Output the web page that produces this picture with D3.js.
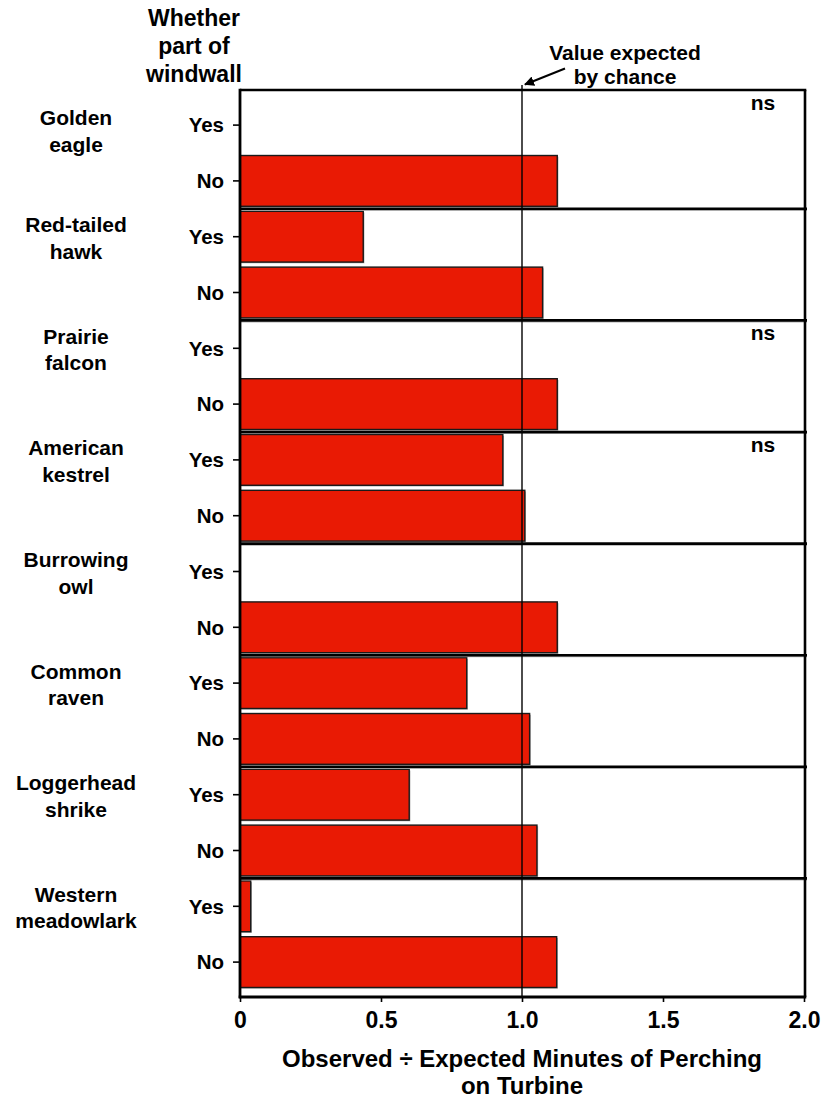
<!DOCTYPE html>
<html>
<head>
<meta charset="utf-8">
<script src="https://cdn.jsdelivr.net/npm/d3@7"></script>
<style>
  html, body { margin: 0; padding: 0; background: #fff; }
  svg { display: block; }
  text { font-family: "Liberation Sans", Arial, sans-serif; font-weight: bold; fill: #000; }
</style>
</head>
<body>
<svg id="chart" width="821" height="1099"></svg>
<script>
// ---- data ----
const speciesLines = [
  ["Golden", "eagle"],
  ["Red-tailed", "hawk"],
  ["Prairie", "falcon"],
  ["American", "kestrel"],
  ["Burrowing", "owl"],
  ["Common", "raven"],
  ["Loggerhead", "shrike"],
  ["Western", "meadowlark"]
];
const windwall = ["Yes", "No"];
const yesValues = [null, 0.437, null, 0.932, null, 0.804, 0.600, 0.038];
const noValues  = [1.125, 1.073, 1.125, 1.010, 1.125, 1.027, 1.053, 1.123];
const nsFlags   = [true, false, true, true, false, false, false, false];
const xTicks = [0, 0.5, 1.0, 1.5, 2.0];
const xTickLabels = ["0", "0.5", "1.0", "1.5", "2.0"];
const chanceValue = 1.0;
const headerLines = ["Whether", "part of", "windwall"];
const axisTitleLines = ["Observed \u00F7 Expected Minutes of Perching", "on Turbine"];
const annotationLines = ["Value expected", "by chance"];

// ---- rows ----
const rows = [];
speciesLines.forEach((s, i) => {
  rows.push({ key: i + "-Yes", species: i, ww: windwall[0], value: yesValues[i] });
  rows.push({ key: i + "-No",  species: i, ww: windwall[1], value: noValues[i] });
});

const svg = d3.select("#chart");
const pL = 240, pR = 805, pT = 90, pB = 997;

const x = d3.scaleLinear().domain([0, 2.0]).range([pL, 804]);
const y = d3.scaleBand().domain(rows.map(r => r.key))
  .range([97.2, 990]).paddingInner(0.09).paddingOuter(0.045);
const step = y.step();
const groupTop = i => i === 0 ? pT : y(i + "-Yes") - step * y.paddingInner() / 2;

// plot background
svg.append("rect").attr("x", pL).attr("y", pT)
  .attr("width", pR - pL).attr("height", pB - pT).attr("fill", "#fff");

// bars: shadow then bar
const barRows = rows.filter(r => r.value != null && r.value > 0);
svg.append("g").selectAll("rect").data(barRows).join("rect")
  .attr("x", x(0) + 1.2).attr("y", d => y(d.key) + 1.2)
  .attr("width", d => x(d.value) - x(0)).attr("height", y.bandwidth())
  .attr("fill", "#b0b0b0");
svg.append("g").selectAll("rect").data(barRows).join("rect")
  .attr("x", x(0)).attr("y", d => y(d.key))
  .attr("width", d => x(d.value) - x(0)).attr("height", y.bandwidth())
  .attr("fill", "#E91A04").attr("stroke", "#1a1a1a").attr("stroke-width", 1.4);

// group dividers
const dividerYs = d3.range(1, speciesLines.length).map(groupTop);
svg.append("g").selectAll("line").data(dividerYs).join("line")
  .attr("x1", pL).attr("x2", pR + 2).attr("y1", d => d + 1.5).attr("y2", d => d + 1.5)
  .attr("stroke", "#999").attr("stroke-width", 1);
svg.append("g").selectAll("line").data(dividerYs).join("line")
  .attr("x1", pL).attr("x2", pR + 2).attr("y1", d => d).attr("y2", d => d)
  .attr("stroke", "#000").attr("stroke-width", 2.6);

// chance reference line
svg.append("line").attr("x1", x(chanceValue)).attr("x2", x(chanceValue))
  .attr("y1", pT - 5).attr("y2", pB).attr("stroke", "#000").attr("stroke-width", 1.4);

// frame: top and right
svg.append("line").attr("x1", pL).attr("x2", pR + 1.3).attr("y1", pT).attr("y2", pT)
  .attr("stroke", "#000").attr("stroke-width", 2.6);
svg.append("line").attr("x1", pR).attr("x2", pR).attr("y1", pT).attr("y2", pB)
  .attr("stroke", "#000").attr("stroke-width", 2.6);

// x axis
const xAxis = d3.axisBottom(x).tickValues(xTicks)
  .tickFormat((d, i) => xTickLabels[i]).tickSize(5).tickSizeOuter(0);
const gx = svg.append("g").attr("transform", `translate(0,${pB})`).call(xAxis);
gx.select(".domain").attr("stroke", "#000").attr("stroke-width", 2.8)
  .attr("d", `M${pL - 1.3},0H${pR + 1.3}`);
gx.selectAll(".tick line").attr("stroke", "#000").attr("stroke-width", 1.6);
gx.selectAll(".tick text").attr("y", 31).attr("dy", 0)
  .style("font-size", "23px").style("font-family", "Liberation Sans, Arial, sans-serif")
  .style("font-weight", "bold").attr("fill", "#000");

// y axis
const yAxis = d3.axisLeft(y).tickFormat(k => rows.find(r => r.key === k).ww)
  .tickSize(7).tickSizeOuter(0).tickPadding(9);
const gy = svg.append("g").attr("transform", `translate(${pL},0)`).call(yAxis);
gy.select(".domain").attr("stroke", "#000").attr("stroke-width", 2.8)
  .attr("d", `M0,${pT - 1.3}V${pB + 1.3}`);
gy.selectAll(".tick line").attr("stroke", "#000").attr("stroke-width", 1.6);
gy.selectAll(".tick text").attr("dy", "0.36em")
  .style("font-size", "20.5px").style("font-family", "Liberation Sans, Arial, sans-serif")
  .style("font-weight", "bold").attr("fill", "#000");

// species labels (first group label sits slightly lower in the original)
const sp = svg.append("g");
speciesLines.forEach((lines, i) => {
  const cy = y(i + "-Yes") + y.bandwidth() / 2 + (i === 0 ? 4.5 : 0);
  sp.append("text").attr("x", 76).attr("y", cy - 4.5).attr("text-anchor", "middle")
    .style("font-size", "21px").text(lines[0]);
  sp.append("text").attr("x", 76).attr("y", cy + 22).attr("text-anchor", "middle")
    .style("font-size", "21px").text(lines[1]);
});

// ns labels
svg.append("g").selectAll("text").data(d3.range(speciesLines.length).filter(i => nsFlags[i])).join("text")
  .attr("x", 763).attr("y", i => groupTop(i) + 19.5)
  .attr("text-anchor", "middle").style("font-size", "21px").text("ns");

// header
svg.append("g").selectAll("text").data(headerLines).join("text")
  .attr("x", 194).attr("y", (d, i) => 26 + i * 28.2).attr("text-anchor", "middle")
  .style("font-size", "23px").text(d => d);

// x axis title
svg.append("g").selectAll("text").data(axisTitleLines).join("text")
  .attr("x", 522).attr("y", (d, i) => 1067 + i * 26.5).attr("text-anchor", "middle")
  .style("font-size", "24px").text(d => d);

// annotation with arrow
const defs = svg.append("defs");
defs.append("marker").attr("id", "arr").attr("viewBox", "0 0 10 10")
  .attr("refX", 9).attr("refY", 5).attr("markerWidth", 5).attr("markerHeight", 5)
  .attr("orient", "auto-start-reverse").attr("markerUnits", "strokeWidth")
  .append("path").attr("d", "M0,0L10,5L0,10z").attr("fill", "#000");
const ax = x(chanceValue);
svg.append("line").attr("x1", ax + 43).attr("y1", 68.5).attr("x2", ax + 3).attr("y2", 84.5)
  .attr("stroke", "#000").attr("stroke-width", 2).attr("marker-end", "url(#arr)");
svg.append("g").selectAll("text").data(annotationLines).join("text")
  .attr("x", ax + 103).attr("y", (d, i) => 59.5 + i * 24).attr("text-anchor", "middle")
  .style("font-size", "21px").text(d => d);
</script>
</body>
</html>
